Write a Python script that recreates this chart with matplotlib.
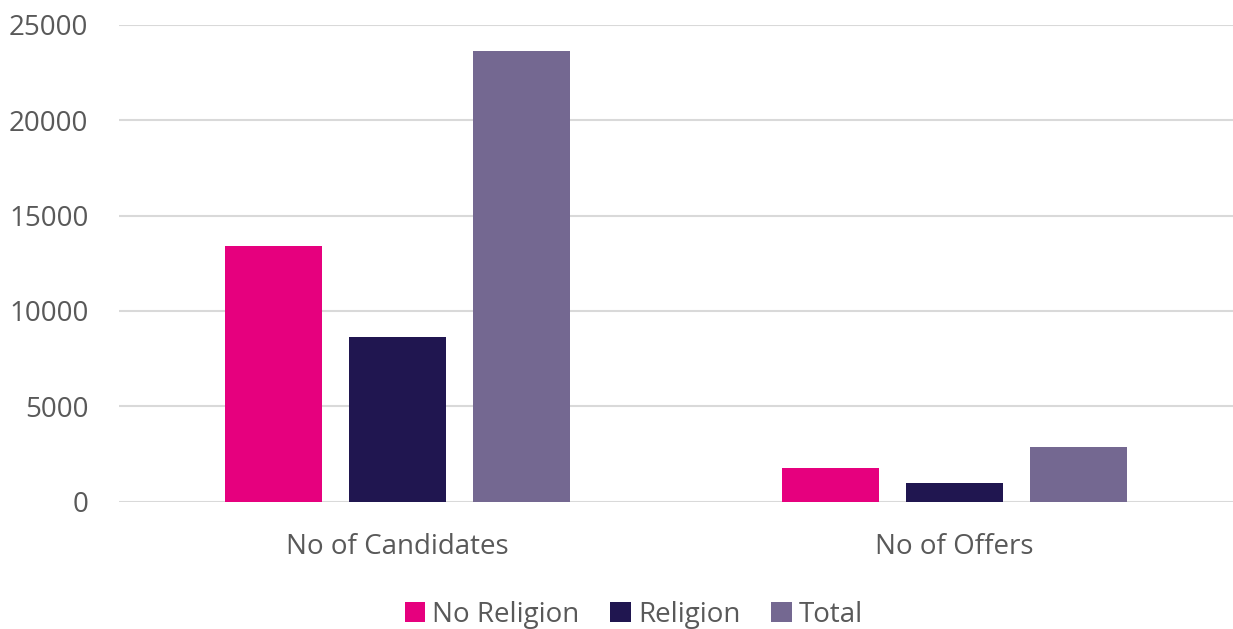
import matplotlib.pyplot as plt
import numpy as np

plt.rcParams['font.family'] = ['Open Sans', 'DejaVu Sans']

categories = ['No of Candidates', 'No of Offers']
series = ['No Religion', 'Religion', 'Total']
no_religion = [13400, 1740]
religion = [8650, 955]
total = [23640, 2870]
colors = ['#E6007E', '#201650', '#746891']

fig = plt.figure(figsize=(12.33, 6.29), dpi=100)
ax = fig.add_axes([0.0965, 0.2027, 0.9035, 0.7576])

x = np.arange(len(categories))
w = 0.174
step = 0.222
for i, (vals, name) in enumerate(zip([no_religion, religion, total], series)):
    ax.bar(x + (i - 1) * step, vals, w, color=colors[i], label=name, zorder=3)

ax.set_xlim(-0.5, 1.5)
ax.set_ylim(0, 25000)
ax.set_yticks(range(0, 25001, 5000))
ax.set_xticks(x)
ax.set_xticklabels(categories)
ax.grid(axis='y', color='#d9d9d9', linewidth=1.5, zorder=0)
ax.tick_params(length=0, labelsize=20, labelcolor='#595959')
ax.tick_params(axis='x', pad=23)
ax.tick_params(axis='y', pad=22)
for s in ax.spines.values():
    s.set_visible(False)

leg = fig.legend(loc='center', bbox_to_anchor=(0.514, 0.023), ncol=3, frameon=False,
                 fontsize=20, handlelength=0.75, handleheight=0.75, handletextpad=0.25,
                 columnspacing=1.1, borderpad=0.1)
for t in leg.get_texts():
    t.set_color('#595959')

fig.savefig('out.png', dpi=100)
